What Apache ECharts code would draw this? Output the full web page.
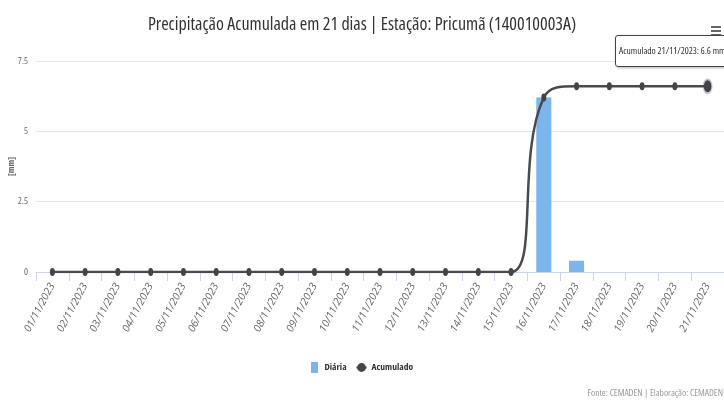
<!DOCTYPE html>
<html>
<head>
<meta charset="utf-8">
<script src="https://cdn.jsdelivr.net/npm/echarts@6/dist/echarts.min.js"></script>
<style>
html,body{margin:0;padding:0;overflow:hidden;background:#fff;}
#c{width:724px;height:406px;}
</style>
</head>
<body>
<div id="c"></div>
<script>
var categories = ['01/11/2023','02/11/2023','03/11/2023','04/11/2023','05/11/2023','06/11/2023','07/11/2023','08/11/2023','09/11/2023','10/11/2023','11/11/2023','12/11/2023','13/11/2023','14/11/2023','15/11/2023','16/11/2023','17/11/2023','18/11/2023','19/11/2023','20/11/2023','21/11/2023'];
var diaria = [0,0,0,0,0,0,0,0,0,0,0,0,0,0,0,6.2,0.4,0,0,0,0];
var acumulado = [0,0,0,0,0,0,0,0,0,0,0,0,0,0,0,6.2,6.6,6.6,6.6,6.6,6.6];
var yTicks = [0, 2.5, 5, 7.5];

var FONT = "'Open Sans','DejaVu Sans',sans-serif";
var NW = 'condensed';
var BW = 'bold condensed';
var chart = echarts.init(document.getElementById('c'), null, {renderer:'canvas'});
var option = {
  animation: false,
  textStyle: {fontFamily: FONT},
  title: [{
    text: 'Precipitação Acumulada em 21 dias | Estação: Pricumã (140010003A)',
    left: 'center', top: 11,
    textStyle: {fontFamily: FONT, fontSize: 18, fontWeight: NW, color: '#333'}
  },{
    text: 'Fonte: CEMADEN | Elaboração: CEMADEN',
    right: -4, bottom: 3,
    textStyle: {fontFamily: FONT, fontSize: 9.5, fontWeight: NW, color: '#999'}
  }],
  graphic: [{
    type: 'group', right: 3, top: 26,
    children: [
      {type:'rect', shape:{x:0,y:0,width:10,height:2}, style:{fill:'#666'}},
      {type:'rect', shape:{x:0,y:4,width:10,height:2}, style:{fill:'#666'}},
      {type:'rect', shape:{x:0,y:8,width:10,height:2}, style:{fill:'#666'}}
    ]
  }],
  legend: {
    bottom: 28, left: 'center',
    itemWidth: 10, itemHeight: 11, itemGap: 9,
    textStyle: {fontFamily: FONT, fontSize: 9.5, fontWeight: BW, color: '#333'},
    data: [{name:'Diária', icon:'path://M0,0h7v11h-7z'}, {name:'Acumulado'}]
  },
  tooltip: {
    trigger: 'item',
    alwaysShowContent: true,
    backgroundColor: 'rgba(255,255,255,0.92)',
    borderColor: '#434348',
    borderWidth: 1,
    padding: [8, 3],
    extraCssText: 'border-radius:3px;box-shadow:1px 1px 3px rgba(0,0,0,0.3);font-stretch:condensed;white-space:nowrap;',
    textStyle: {fontFamily: FONT, fontSize: 9.5, color: '#333'},
    position: function (point) { return [point[0] - 93, 35]; },
    formatter: function (p) {
      return '<span style="font-stretch:condensed">' + p.seriesName + ' ' + p.name + ': ' + p.value + ' mm</span>';
    }
  },
  grid: {left: 36, right: 0, top: 61, bottom: 134, outerBoundsMode: 'none', containLabel: false},
  xAxis: {
    type: 'category',
    data: categories,
    boundaryGap: true,
    axisLine: {lineStyle: {color: '#ccd6eb'}},
    axisTick: {show: true, length: 9, lineStyle: {color: '#ccd6eb'}},
    axisLabel: {rotate: 62, fontSize: 10.5, color: '#666', margin: 12, fontFamily: FONT, fontStyle: 'italic'}
  },
  yAxis: {
    type: 'value',
    min: 0, max: 7.5, interval: 2.5,
    name: '[mm]',
    nameLocation: 'middle',
    nameGap: 20,
    nameMoveOverlap: false,
    nameRotate: 90,
    nameTextStyle: {fontSize: 9, fontWeight: BW, color: '#666', fontFamily: FONT},
    axisLine: {show: false},
    axisTick: {show: false},
    splitLine: {lineStyle: {color: '#e6e6e6'}},
    axisLabel: {fontSize: 9.5, color: '#666', margin: 8, fontFamily: FONT, fontWeight: NW,
      formatter: function (v) { return yTicks.indexOf(v) >= 0 ? String(v) : ''; }}
  },
  series: [{
    name: 'Diária',
    type: 'bar',
    data: diaria,
    barWidth: '46%',
    itemStyle: {color: '#7cb5ec'},
    tooltip: {show: false},
    emphasis: {disabled: true}
  },{
    name: 'Acumulado',
    type: 'line',
    data: acumulado,
    smooth: 0.5,
    symbol: 'circle',
    symbolSize: [5, 8],
    lineStyle: {color: '#434348', width: 2.5},
    itemStyle: {color: '#434348'},
    emphasis: {
      scale: 1.5,
      itemStyle: {color: '#434348', borderColor: 'rgba(67,67,72,0.3)', borderWidth: 3}
    }
  }]
};
chart.setOption(option);
setTimeout(function(){
  chart.dispatchAction({type:'highlight', seriesIndex:1, dataIndex:20});
  chart.dispatchAction({type:'showTip', seriesIndex:1, dataIndex:20});
}, 50);
</script>
</body>
</html>
